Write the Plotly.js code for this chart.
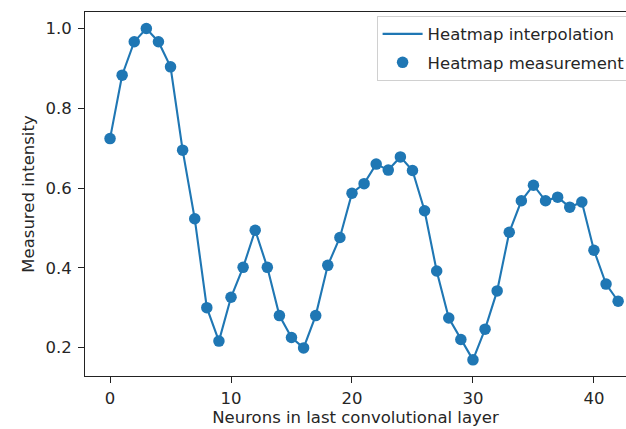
<!DOCTYPE html>
<html><head>
<meta charset="utf-8">
<script src="https://cdn.plot.ly/plotly-3.0.1.min.js"></script>
<style>html,body{margin:0;padding:0;background:#fff;overflow:hidden}</style>
</head><body>
<div id="chart" style="width:626px;height:429px"></div>
<script>
const neurons = [0,1,2,3,4,5,6,7,8,9,10,11,12,13,14,15,16,17,18,19,20,21,22,23,24,25,26,27,28,29,30,31,32,33,34,35,36,37,38,39,40,41,42];
const intensity = [0.724,0.883,0.967,1.0,0.967,0.904,0.695,0.523,0.300,0.216,0.326,0.401,0.494,0.401,0.280,0.225,0.199,0.280,0.406,0.476,0.587,0.611,0.660,0.645,0.678,0.644,0.543,0.392,0.274,0.220,0.169,0.246,0.342,0.489,0.568,0.607,0.568,0.577,0.552,0.565,0.444,0.359,0.316];
const xTicks = [0,10,20,30,40];
const yTicks = [0.2,0.4,0.6,0.8,1.0];
const yTickText = ["0.2","0.4","0.6","0.8","1.0"];
const seriesNames = ["Heatmap interpolation","Heatmap measurement"];

const C0 = '#1f77b4';
const FS = 16.5;
const font = {family:'"DejaVu Sans", sans-serif', size:FS, color:'#262626'};

const traces = [
  {x:neurons, y:intensity, mode:'lines', name:seriesNames[0], legendgroup:'a', line:{color:C0, width:2.1}, hoverinfo:'skip'},
  {x:neurons, y:intensity, mode:'markers', name:seriesNames[1], legendgroup:'b', marker:{color:C0, size:11.5}, hoverinfo:'skip'}
];

const layout = {
  width:626, height:429,
  margin:{l:85, r:0, t:12, b:53, pad:0, autoexpand:false},
  paper_bgcolor:'#fff', plot_bgcolor:'#fff',
  font:font,
  showlegend:true,
  legend:{x:0.539, y:0.99, xanchor:'left', yanchor:'top', bgcolor:'#fff', bordercolor:'#d0d0d0', borderwidth:1,
          font:font, itemwidth:40, tracegroupgap:4},
  xaxis:{range:[-2.07,42.65], tickvals:xTicks, ticks:'outside', ticklen:6, tickwidth:1, tickcolor:'#222',
         showline:true, linecolor:'#222', linewidth:1, mirror:true, showgrid:false, zeroline:false,
         tickfont:font, ticklabelstandoff:1, automargin:false,
         title:{text:'Neurons in last convolutional layer', font:font, standoff:4}},
  yaxis:{range:[0.1285,1.0415], tickvals:yTicks, ticktext:yTickText, ticks:'outside', ticklen:6, tickwidth:1, tickcolor:'#222',
         showline:true, linecolor:'#222', linewidth:1, mirror:false, showgrid:false, zeroline:false,
         tickfont:font, ticklabelstandoff:3, automargin:false,
         title:{text:'Measured intensity', font:font, standoff:6}}
};

Plotly.newPlot('chart', traces, layout, {displayModeBar:false, staticPlot:true});
</script>
</body></html>
